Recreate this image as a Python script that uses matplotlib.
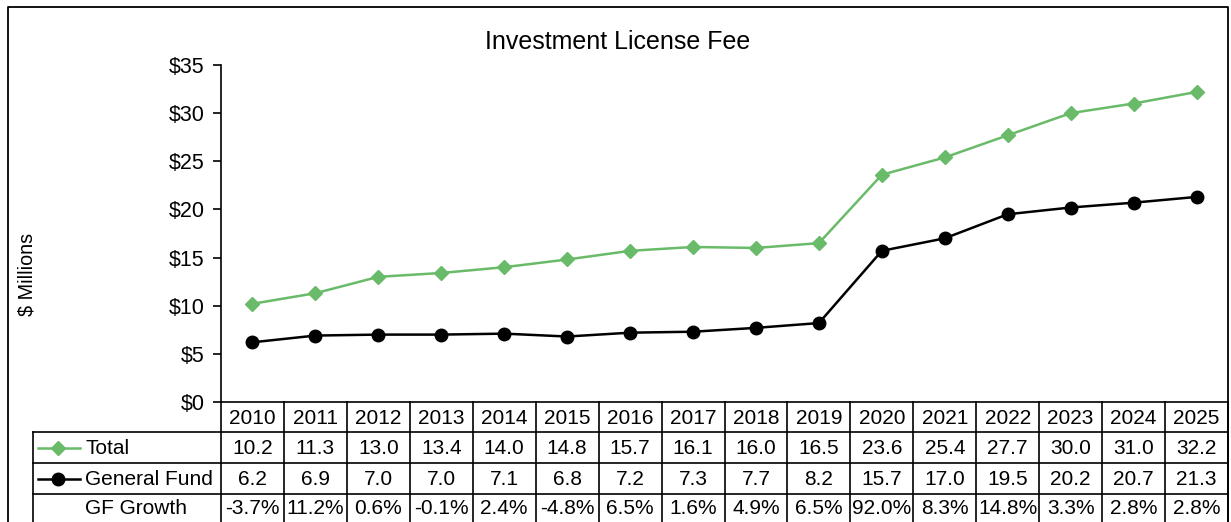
import matplotlib
matplotlib.use("Agg")
import matplotlib.pyplot as plt
from matplotlib.lines import Line2D

plt.rcParams['font.family'] = ['Liberation Sans', 'DejaVu Sans']

years = [2010, 2011, 2012, 2013, 2014, 2015, 2016, 2017, 2018, 2019,
         2020, 2021, 2022, 2023, 2024, 2025]
total = [10.2, 11.3, 13.0, 13.4, 14.0, 14.8, 15.7, 16.1, 16.0, 16.5,
         23.6, 25.4, 27.7, 30.0, 31.0, 32.2]
general_fund = [6.2, 6.9, 7.0, 7.0, 7.1, 6.8, 7.2, 7.3, 7.7, 8.2,
                15.7, 17.0, 19.5, 20.2, 20.7, 21.3]
gf_growth = ["-3.7%", "11.2%", "0.6%", "-0.1%", "2.4%", "-4.8%", "6.5%", "1.6%",
             "4.9%", "6.5%", "92.0%", "8.3%", "14.8%", "3.3%", "2.8%", "2.8%"]
yticks = [0, 5, 10, 15, 20, 25, 30, 35]
ytick_labels = ["$0", "$5", "$10", "$15", "$20", "$25", "$30", "$35"]

GREEN = '#69BA69'
W, H = 1231, 522
fig = plt.figure(figsize=(W / 100, H / 100), dpi=100)

# layout in pixels
X0, X1 = 221, 1228
Y_TOP, Y_ZERO = 65, 402
ROWS = [402, 432, 463, 494, 525]
LAB_L = 33
n = len(years)
cw = (X1 - X0) / n

ax = fig.add_axes([X0 / W, 1 - Y_ZERO / H, (X1 - X0) / W, (Y_ZERO - Y_TOP) / H])
xs = list(range(n))
ax.plot(xs, total, color=GREEN, lw=1.8, marker='D', ms=7, mec=GREEN, mfc=GREEN,
        zorder=3)
ax.plot(xs, general_fund, color='black', lw=1.8, marker='o', ms=9, zorder=3)
ax.set_xlim(-0.5, n - 0.5)
ax.set_ylim(0, 35)
ax.set_yticks(yticks)
ax.set_yticklabels(ytick_labels, fontsize=15.5)
ax.tick_params(axis='y', direction='out', length=6, width=1.2, pad=6)
ax.set_xticks([])
for s in ['top', 'right', 'bottom']:
    ax.spines[s].set_visible(False)
ax.spines['left'].set_linewidth(1.2)
ax.patch.set_alpha(0)

# overlay in pixel coordinates
ov = fig.add_axes([0, 0, 1, 1])
ov.set_xlim(0, W)
ov.set_ylim(H, 0)
ov.axis('off')

# outer frame
ov.add_line(Line2D([8, 8, 1228, 1228], [530, 7, 7, 530], color='black', lw=1.3))

ov.text(618, 42, "Investment License Fee", ha='center', va='center', fontsize=18)
ov.text(27, 274, "$ Millions", ha='center', va='center', rotation=90, fontsize=14.2)

# table lines
lw = 1.2
ov.add_line(Line2D([X0, X1], [ROWS[0], ROWS[0]], color='black', lw=lw))
for r in ROWS[1:4]:
    ov.add_line(Line2D([LAB_L, X1], [r, r], color='black', lw=lw))
ov.add_line(Line2D([LAB_L, LAB_L], [ROWS[1], 530], color='black', lw=lw))
for i in range(n + 1):
    x = X0 + i * cw
    ov.add_line(Line2D([x, x], [ROWS[0], 530], color='black', lw=lw))

fs = 15
for i in range(n):
    cx = X0 + (i + 0.5) * cw
    ov.text(cx, (ROWS[0] + ROWS[1]) / 2 + 1, str(years[i]), ha='center', va='center', fontsize=fs)
    ov.text(cx, (ROWS[1] + ROWS[2]) / 2 + 1, f"{total[i]:.1f}", ha='center', va='center', fontsize=fs)
    ov.text(cx, (ROWS[2] + ROWS[3]) / 2 + 1, f"{general_fund[i]:.1f}", ha='center', va='center', fontsize=fs)
    ov.text(cx, (ROWS[3] + ROWS[4]) / 2 - 1, gf_growth[i], ha='center', va='center', fontsize=fs)

# row labels with legend keys
ry1 = (ROWS[1] + ROWS[2]) / 2
ry2 = (ROWS[2] + ROWS[3]) / 2
ry3 = (ROWS[3] + ROWS[4]) / 2 - 1
ov.add_line(Line2D([38, 80], [ry1, ry1], color=GREEN, lw=1.8))
ov.add_line(Line2D([58], [ry1], color=GREEN, marker='D', ms=7, mec=GREEN, mfc=GREEN))
ov.add_line(Line2D([38, 80], [ry2, ry2], color='black', lw=1.8))
ov.add_line(Line2D([58], [ry2], color='black', marker='o', ms=9))
ov.text(85, ry1 + 1, "Total", ha='left', va='center', fontsize=fs)
ov.text(85, ry2 + 1, "General Fund", ha='left', va='center', fontsize=fs)
ov.text(85, ry3, "GF Growth", ha='left', va='center', fontsize=fs)

fig.savefig("out.png", dpi=100)
